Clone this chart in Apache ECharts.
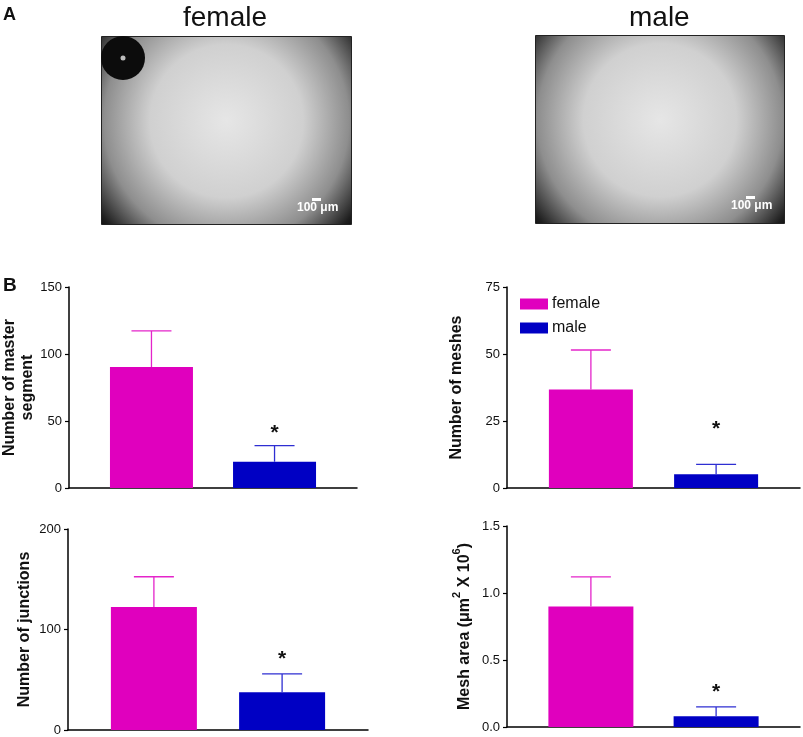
<!DOCTYPE html>
<html>
<head>
<meta charset="utf-8">
<title>Tube formation female vs male</title>
<script src="https://cdn.jsdelivr.net/npm/echarts@6.0.0/dist/echarts.min.js"></script>
<style>
  html, body { margin: 0; padding: 0; background: #fff; }
  #chart { width: 803px; height: 737px; }
</style>
</head>
<body>
<div id="chart"></div>
<script>
// groups (mean and SEM, error bars drawn upward only)
var groups = ['female', 'male'];
var groupX = [1, 2];

var masterMean = [90.3, 19.6];
var masterSem = [26.9, 12.0];
var masterStar = [null, 41];

var meshMean = [36.8, 5.1];
var meshSem = [14.7, 3.7];
var meshStar = [null, 22];

var junctionMean = [122.3, 37.6];
var junctionSem = [30.2, 18.2];
var junctionStar = [null, 70];

var areaMean = [0.90, 0.08];
var areaSem = [0.22, 0.07];
var areaStar = [null, 0.26];

var barColors = ['#E000BE', '#0000C4'];
var errColors = ['#E424CA', '#2E2ED2'];
var FONT = "'Liberation Sans', Arial, Helvetica, sans-serif";

// layout of the four small panels
var panels = [
  { name: 'Number of master\nsegment', mean: masterMean, sem: masterSem, star: masterStar,
    max: 150, step: 50, digits: 0, grid: { left: 69, top: 287, width: 288, height: 201 }, gap: 32, bw: 83 },
  { name: 'Number of meshes', mean: meshMean, sem: meshSem, star: meshStar,
    max: 75, step: 25, digits: 0, grid: { left: 507, top: 287, width: 293, height: 201 }, gap: 41, bw: 84 },
  { name: 'Number of junctions', mean: junctionMean, sem: junctionSem, star: junctionStar,
    max: 200, step: 100, digits: 0, grid: { left: 68, top: 529, width: 300, height: 201 }, gap: 34, bw: 86 },
  { name: '{t|Mesh area (\u03bcm}{s|2}{t| X 10}{s|6}{t|)}', mean: areaMean, sem: areaSem, star: areaStar,
    max: 1.5, step: 0.5, digits: 1, grid: { left: 507, top: 526, width: 293, height: 201 }, gap: 34, bw: 85 }
];

var grids = [], xAxes = [], yAxes = [], series = [];

panels.forEach(function (p, k) {
  grids.push({ left: p.grid.left, top: p.grid.top, width: p.grid.width, height: p.grid.height,
    containLabel: false, outerBoundsMode: 'none' });
  xAxes.push({
    gridIndex: k, type: 'value', min: 0.33, max: 2.67,
    axisLine: { show: true, lineStyle: { color: '#000', width: 1.5 } },
    axisTick: { show: false }, axisLabel: { show: false }, splitLine: { show: false }
  });
  yAxes.push({
    gridIndex: k, type: 'value', min: 0, max: p.max, interval: p.step,
    name: p.name, nameLocation: 'middle', nameRotate: 90, nameGap: p.gap,
    nameTextStyle: { fontFamily: FONT, fontSize: 16, fontWeight: 'bold', color: '#111', lineHeight: 18,
      rich: {
        t: { fontFamily: FONT, fontSize: 16, fontWeight: 'bold', color: '#111', lineHeight: 22, verticalAlign: 'bottom' },
        s: { fontFamily: FONT, fontSize: 11, fontWeight: 'bold', color: '#111', lineHeight: 22, verticalAlign: 'top' }
      } },
    axisLine: { show: true, lineStyle: { color: '#000', width: 1.5 } },
    axisTick: { show: true, inside: false, length: 4, lineStyle: { color: '#000', width: 1.2 } },
    axisLabel: { fontFamily: FONT, fontSize: 13, color: '#111', margin: 7,
      formatter: function (v) { return v.toFixed(p.digits); } },
    splitLine: { show: false }
  });
  groups.forEach(function (g, i) {
    series.push({
      name: g, type: 'bar', xAxisIndex: k, yAxisIndex: k,
      barWidth: p.bw, barGap: '-100%',
      itemStyle: { color: barColors[i] },
      data: [[groupX[i], p.mean[i]]]
    });
  });
  series.push({
    type: 'custom', xAxisIndex: k, yAxisIndex: k, z: 5, silent: true,
    encode: { x: 0, y: 1 },
    data: groupX.map(function (x, i) { return [x, p.mean[i], p.sem[i]]; }),
    renderItem: function (params, api) {
      var i = params.dataIndex;
      var x = api.value(0), m = api.value(1), e = api.value(2);
      var base = api.coord([x, m]);
      var top = api.coord([x, m + e]);
      var st = { stroke: errColors[i], lineWidth: 1.3 };
      var children = [
        { type: 'line', shape: { x1: base[0], y1: base[1], x2: top[0], y2: top[1] }, style: st },
        { type: 'line', shape: { x1: top[0] - 20, y1: top[1], x2: top[0] + 20, y2: top[1] }, style: st }
      ];
      if (p.star[i] != null) {
        var s = api.coord([x, p.star[i]]);
        children.push({ type: 'text', style: { text: '*', x: s[0], y: s[1], align: 'center',
          verticalAlign: 'middle', font: 'bold 21px ' + FONT, fill: '#111' } });
      }
      return { type: 'group', children: children };
    }
  });
});

// panel A: microscope field placeholders with scale bars
function field(x, y, w, h) {
  return {
    type: 'rect', left: x, top: y, shape: { width: w, height: h },
    style: {
      fill: { type: 'radial', x: 0.5, y: 0.45, r: 0.9,
        colorStops: [
          { offset: 0, color: '#e6e6e6' }, { offset: 0.45, color: '#d0d0d0' },
          { offset: 0.72, color: '#8e8e8e' }, { offset: 0.92, color: '#1e1e1e' },
          { offset: 1, color: '#050505' }] },
      stroke: '#222', lineWidth: 1
    }
  };
}
function scaleBar(x, y) {
  return [
    { type: 'rect', left: x + 15, top: y, shape: { width: 9, height: 3 }, style: { fill: '#fff' } },
    { type: 'text', left: x, top: y + 4, style: { text: '100 \u03bcm', fill: '#fff',
      font: 'bold 12px ' + FONT } }
  ];
}

var graphics = [
  { type: 'text', left: 3, top: 6, style: { text: 'A', font: 'bold 18px ' + FONT, fill: '#111' } },
  { type: 'text', left: 3, top: 276, style: { text: 'B', font: 'bold 19px ' + FONT, fill: '#111' } },
  { type: 'text', left: 183, top: 4, style: { text: 'female', font: '28px ' + FONT, fill: '#111' } },
  { type: 'text', left: 629, top: 4, style: { text: 'male', font: '28px ' + FONT, fill: '#111' } },
  field(101, 36, 250, 188),
  field(535, 35, 249, 188),
  { type: 'circle', shape: { cx: 123, cy: 58, r: 22 }, style: { fill: '#0c0c0c' } },
  { type: 'circle', shape: { cx: 123, cy: 58, r: 2.5 }, style: { fill: '#bdbdbd' } }
].concat(scaleBar(297, 198), scaleBar(731, 196));

var chart = echarts.init(document.getElementById('chart'), null, { renderer: 'canvas' });
chart.setOption({
  animation: false,
  backgroundColor: '#fff',
  textStyle: { fontFamily: FONT },
  legend: {
    data: groups, orient: 'vertical', left: 515, top: 291,
    icon: 'rect', itemWidth: 28, itemHeight: 11, itemGap: 8, selectedMode: false,
    textStyle: { fontFamily: FONT, fontSize: 16, color: '#111', padding: [0, 0, 0, -1] }
  },
  grid: grids,
  xAxis: xAxes,
  yAxis: yAxes,
  series: series,
  graphic: graphics
});
</script>
</body>
</html>
